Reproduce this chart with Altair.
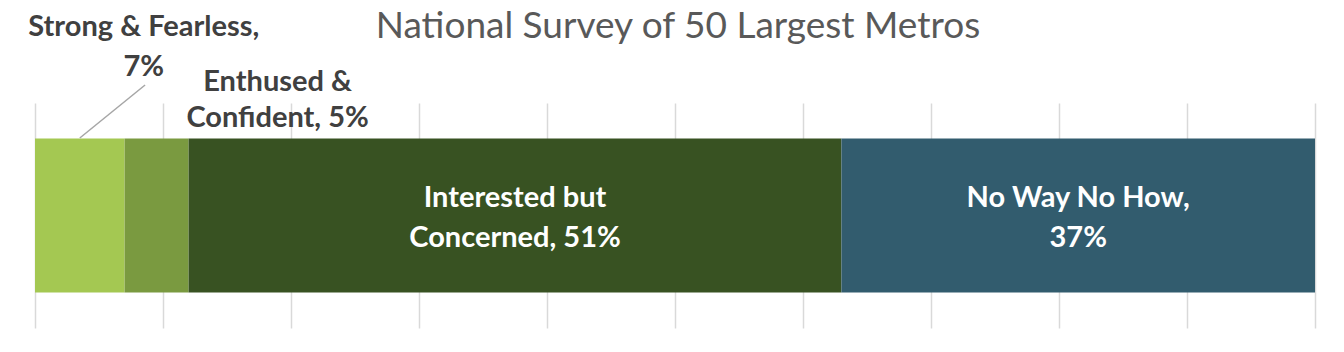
import altair as alt
import pandas as pd

# ---- data ----
categories = ["Strong & Fearless", "Enthused & Confident", "Interested but Concerned", "No Way No How"]
values = [7, 5, 51, 37]
labels = ["Strong & Fearless,\n7%", "Enthused &\nConfident, 5%", "Interested but\nConcerned, 51%", "No Way No How,\n37%"]
colors = ["#A4C852", "#7A9A40", "#385222", "#325C6E"]
grid_ticks = list(range(0, 101, 10))
title_text = "National Survey of 50 Largest Metros"

starts, ends, acc = [], [], 0
for v in values:
    starts.append(acc)
    acc += v
    ends.append(acc)

df = pd.DataFrame({
    "category": categories,
    "value": values,
    "start": starts,
    "end": ends,
    "mid": [(s + e) / 2 for s, e in zip(starts, ends)],
    "label": labels,
    "row": ["survey"] * len(categories),
})

base = alt.Chart(df)

x_scale = alt.Scale(domain=[0, 100], nice=False, zero=True)
x_axis = alt.Axis(values=grid_ticks, labels=False, ticks=False, domain=False,
                  grid=True, gridColor="#D9D9D9", gridWidth=1.5, title=None)

bars = base.mark_bar(size=154).encode(
    x=alt.X("start:Q", scale=x_scale, axis=x_axis),
    x2="end:Q",
    y=alt.Y("row:N", axis=None),
    color=alt.Color("category:N", scale=alt.Scale(domain=categories, range=colors), legend=None),
)

LBL = dict(font="Lato", fontWeight="bold", fontSize=29, align="center", baseline="middle", lineBreak="\n")

inside = base.transform_filter(alt.datum.value > 20).mark_text(
    color="white", lineHeight=40, **LBL
).encode(x=alt.X("mid:Q", scale=x_scale), y=alt.value(95), text="label:N")

strong = base.transform_filter(alt.datum.category == categories[0]).mark_text(
    color="#404040", lineHeight=40, dx=64, **LBL
).encode(x=alt.X("mid:Q", scale=x_scale), y=alt.value(-76), text="label:N")

enthused = base.transform_filter(alt.datum.category == categories[1]).mark_text(
    color="#404040", lineHeight=36, dx=121, **LBL
).encode(x=alt.X("mid:Q", scale=x_scale), y=alt.value(-21), text="label:N")

leader = base.transform_filter(alt.datum.category == categories[0]).transform_calculate(
    lx="datum.mid + 5.1"
).mark_rule(color="#A6A6A6", strokeWidth=1.5).encode(
    x=alt.X("mid:Q", scale=x_scale), x2="lx:Q", y=alt.value(35), y2=alt.value(-18)
)

title = alt.Chart(pd.DataFrame({"t": [title_text]})).mark_text(
    font="Lato", fontSize=37, fontWeight="normal", color="#595959", align="center", baseline="alphabetic",
).encode(x=alt.value(643), y=alt.value(-65), text="t:N")

chart = alt.layer(bars, leader, inside, strong, enthused, title).properties(
    width=1280, height=225,
    autosize=alt.AutoSizeParams(type="none"),
    padding={"left": 35, "top": 103, "right": 29, "bottom": 24},
    background="white",
).configure_view(stroke=None)

chart.save("out.html", embed_options={"renderer": "svg", "actions": False})
